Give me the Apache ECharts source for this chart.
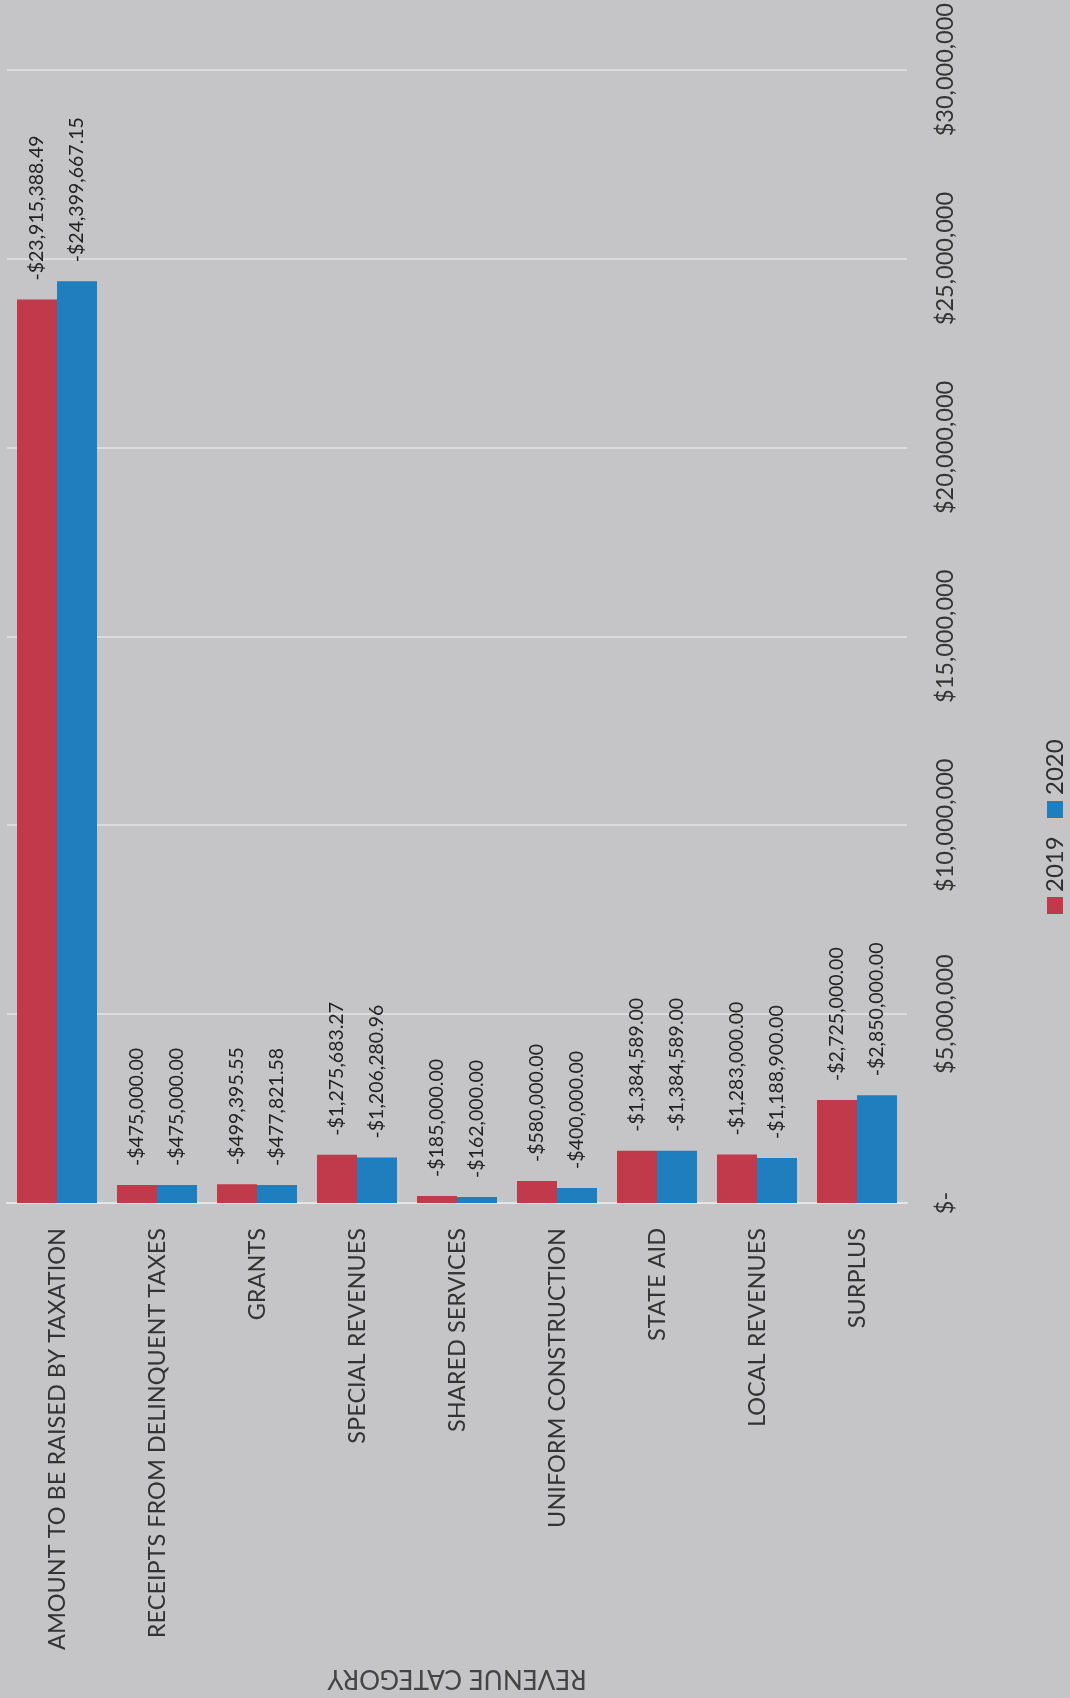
<!DOCTYPE html>
<html>
<head>
<meta charset="utf-8">
<title>Revenue by Category</title>
<script src="https://cdn.jsdelivr.net/npm/echarts@6/dist/echarts.min.js"></script>
<style>
  html, body { margin: 0; padding: 0; background: #c5c4c6; }
  #chart { width: 1070px; height: 1698px; }
</style>
</head>
<body>
<div id="chart"></div>
<script>
// Revenue categories, in the order they sit along the category axis
const categories = [
  'AMOUNT TO BE RAISED BY TAXATION',
  'RECEIPTS FROM DELINQUENT TAXES',
  'GRANTS',
  'SPECIAL REVENUES',
  'SHARED SERVICES',
  'UNIFORM CONSTRUCTION',
  'STATE AID',
  'LOCAL REVENUES',
  'SURPLUS'
];

const seriesNames = ['2019', '2020'];

const values2019 = [23915388.49, 475000.00, 499395.55, 1275683.27, 185000.00, 580000.00, 1384589.00, 1283000.00, 2725000.00];
const values2020 = [24399667.15, 475000.00, 477821.58, 1206280.96, 162000.00, 400000.00, 1384589.00, 1188900.00, 2850000.00];

// Value-axis tick labels, one per 5,000,000 step starting at zero
const valueTicks = ['$-', '$5,000,000', '$10,000,000', '$15,000,000', '$20,000,000', '$25,000,000', '$30,000,000'];
const tickStep = 5000000;

const colors = ['#c03a4c', '#1f7ebd'];
const FONT = 'Lato, "Open Sans", sans-serif';

function money(v) {
  const fixed = Math.abs(v).toFixed(2);
  const parts = fixed.split('.');
  const whole = parts[0].replace(/\B(?=(\d{3})+(?!\d))/g, ',');
  return '-$' + whole + '.' + parts[1];
}

const chart = echarts.init(document.getElementById('chart'), null, { renderer: 'canvas' });

function makeSeries(name, data, color) {
  return {
    name: name,
    type: 'bar',
    data: data,
    barGap: '0%',
    barCategoryGap: '20%',
    itemStyle: { color: color },
    label: {
      show: true,
      position: 'top',
      distance: 19,
      rotate: 90,
      align: 'left',
      verticalAlign: 'middle',
      color: '#222222',
      fontFamily: FONT,
      fontSize: 19.5,
      formatter: function (p) { return money(p.value); }
    }
  };
}

// Legend drawn upright along the right edge, reading bottom to top
const legendGroup = {
  type: 'group',
  x: 1055,
  y: 914,
  rotation: Math.PI / 2,
  children: [
    { type: 'rect', shape: { x: 0, y: -8, width: 17, height: 16 }, style: { fill: colors[0] } },
    { type: 'text', x: 22, y: 0, style: { text: seriesNames[0], fill: '#2e2e2e', font: '24px ' + FONT,
      align: 'left', verticalAlign: 'middle', textAlign: 'left', textVerticalAlign: 'middle' } },
    { type: 'rect', shape: { x: 96, y: -8, width: 17, height: 16 }, style: { fill: colors[1] } },
    { type: 'text', x: 119, y: 0, style: { text: seriesNames[1], fill: '#2e2e2e', font: '24px ' + FONT,
      align: 'left', verticalAlign: 'middle', textAlign: 'left', textVerticalAlign: 'middle' } }
  ]
};

const option = {
  backgroundColor: '#c5c4c6',
  animation: false,
  grid: { left: 7, right: 163, top: 64, bottom: 495, containLabel: false },
  xAxis: {
    type: 'category',
    data: categories,
    name: 'REVENUE CATEGORY',
    nameLocation: 'middle',
    nameGap: 475,
    nameRotate: 180,
    nameTextStyle: {
      color: '#444444', fontFamily: FONT, fontSize: 26,
      align: 'center', verticalAlign: 'middle'
    },
    axisLine: { show: true, lineStyle: { color: '#e6e6e6', width: 2 } },
    axisTick: { show: false },
    axisLabel: {
      interval: 0,
      rotate: 90,
      margin: 25,
      align: 'right',
      verticalAlign: 'middle',
      color: '#333333',
      fontFamily: FONT,
      fontSize: 23.5
    },
    splitLine: { show: false }
  },
  yAxis: {
    type: 'value',
    position: 'right',
    min: 0,
    max: 30000000,
    interval: tickStep,
    axisLine: { show: false },
    axisTick: { show: false },
    splitLine: { show: true, lineStyle: { color: '#e4e4e4', width: 1.5 } },
    axisLabel: {
      rotate: 90,
      margin: 26,
      align: 'center',
      verticalAlign: 'top',
      color: '#333333',
      fontFamily: FONT,
      fontSize: 23.5,
      formatter: function (v) { return valueTicks[Math.round(v / tickStep)]; }
    }
  },
  series: [
    makeSeries(seriesNames[0], values2019, colors[0]),
    makeSeries(seriesNames[1], values2020, colors[1])
  ],
  graphic: [legendGroup]
};

chart.setOption(option);
</script>
</body>
</html>
